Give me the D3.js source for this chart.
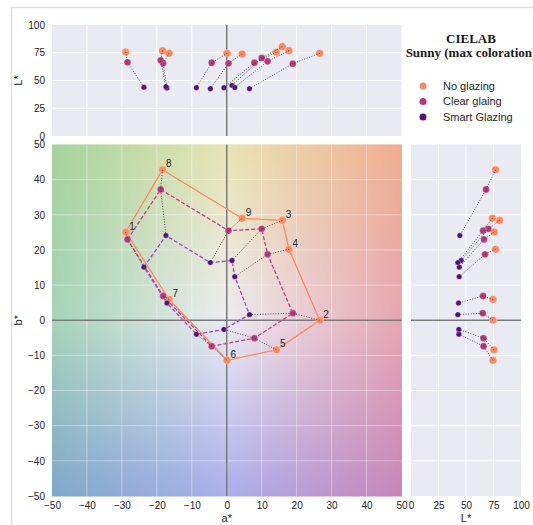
<!DOCTYPE html>
<html>
<head>
<meta charset="utf-8">
<script src="https://cdn.jsdelivr.net/npm/d3@7"></script>
<style>
  html, body { margin: 0; padding: 0; background: #ffffff; }
  svg { display: block; font-family: "Liberation Sans", Arial, sans-serif; }
</style>
</head>
<body>
<svg id="chart" width="533" height="525"></svg>
<script>
// ---------------- DATA ----------------
const samples = ["1", "2", "3", "4", "5", "6", "7", "8", "9"];
const aNo    = [-28.9, 26.6, 15.9, 17.8, 14.2,  0.1, -16.5, -18.4,  4.4];
const bNo    = [ 25.1,  0.0, 28.4, 20.2, -8.4, -11.4,  5.9,  42.8, 29.0];
const LNo    = [ 75.7, 74.5, 80.5, 76.9, 75.4, 74.5, 74.5,  76.9, 73.9];
const aClear = [-28.4, 18.9, 10.0, 11.7,  7.9, -4.3, -18.2, -18.9,  0.5];
const bClear = [ 23.0,  2.0, 26.0, 18.75, -5.1, -7.4,  6.9,  37.2, 25.5];
const LClear = [ 66.4, 65.2, 70.3, 67.3, 66.0, 66.0, 65.5,  68.2, 65.5];
const aSmart = [-23.7,  6.5,  1.5,  2.3, -0.8, -8.7, -17.1, -17.4, -4.7];
const bSmart = [ 15.1,  1.6, 17.0, 12.4, -2.6, -4.0,  4.9,  24.1, 16.4];
const LSmart = [ 43.9, 42.6, 45.6, 43.8, 43.5, 43.5, 43.2,  44.4, 42.6];
const polygonOrder = ["1", "8", "9", "3", "4", "2", "5", "6", "7"];
const seriesNames = ["No glazing", "Clear glaing", "Smart Glazing"];
const abTicks = [-50, -40, -30, -20, -10, 0, 10, 20, 30, 40, 50];
const LTicks = [0, 25, 50, 75, 100];

// ---------------- STYLE ----------------
const markerColors = ["#fc8961", "#b73779", "#51127c"];
const lineColors = ["#fc8961", "#c93d80", "#a24ccf"];
const radii = [3.8, 3.4, 2.7];
const panelBg = "#eaeaf2";
const textColor = "#262626";
const sans = "'Liberation Sans', Arial, sans-serif";
const serif = "'Liberation Serif', 'Times New Roman', serif";

const series = [
  {a: aNo, b: bNo, L: LNo},
  {a: aClear, b: bClear, L: LClear},
  {a: aSmart, b: bSmart, L: LSmart}
];
series.forEach((s, k) => {
  s.pts = samples.map((id, i) => ({id, a: s.a[i], b: s.b[i], L: s.L[i]}));
  s.color = markerColors[k]; s.line = lineColors[k]; s.r = radii[k]; s.name = seriesNames[k];
});

const svg = d3.select("#chart");

// figure frame
svg.append("rect").attr("x", 11.5).attr("y", 7.5).attr("width", 560).attr("height", 560)
  .attr("fill", "none").attr("stroke", "#e4dde1").attr("stroke-width", 1.5);

// ---------------- SCALES ----------------
const xMain = d3.scaleLinear().domain([-50, 50]).range([52, 401.5]);
const yMain = d3.scaleLinear().domain([-50, 50]).range([496, 144.5]);
const yTop = d3.scaleLinear().domain([0, 100]).range([136, 25]);
const xRight = d3.scaleLinear().domain([0, 100]).range([411, 521]);

// ---------------- PANEL BACKGROUNDS ----------------
function panel(x0, x1, y0, y1) {
  svg.append("rect").attr("x", x0).attr("y", y0).attr("width", x1 - x0).attr("height", y1 - y0)
    .attr("fill", panelBg);
}
panel(xMain.range()[0], xMain.range()[1], yTop.range()[1], yTop.range()[0]);
panel(xMain.range()[0], xMain.range()[1], yMain.range()[1], yMain.range()[0]);
panel(xRight.range()[0], xRight.range()[1], yMain.range()[1], yMain.range()[0]);

// main panel colour gradient (a*b* plane impression)
(function () {
  const w = Math.round(xMain.range()[1] - xMain.range()[0]);
  const h = Math.round(yMain.range()[0] - yMain.range()[1]);
  const cv = document.createElement("canvas");
  cv.width = w; cv.height = h;
  const ctx = cv.getContext("2d");
  const img = ctx.createImageData(w, h);
  // 3x3 anchor colours: rows b = +50, 0, -50 ; cols a = -50, 0, +50
  const grid = [
    ["#a4d39a", "#e8e4b2", "#f1ad8e"],
    ["#a6d3b8", "#ecebf1", "#e6a6b2"],
    ["#7ea8c9", "#abaeec", "#c785b9"]
  ].map(r => r.map(c => d3.rgb(c)));
  function lerp(p, q, t) { return p + (q - p) * t; }
  for (let j = 0; j < h; j++) {
    const b = yMain.invert(yMain.range()[1] + j + 0.5);
    const gy = (50 - b) / 50; // 0..2
    const r0 = Math.min(1, Math.floor(gy)), ty = gy - r0;
    for (let i = 0; i < w; i++) {
      const a = xMain.invert(xMain.range()[0] + i + 0.5);
      const gx = (a + 50) / 50;
      const c0 = Math.min(1, Math.floor(gx)), tx = gx - c0;
      const A = grid[r0][c0], B = grid[r0][c0 + 1], C = grid[r0 + 1][c0], D = grid[r0 + 1][c0 + 1];
      const k = (j * w + i) * 4;
      img.data[k]     = lerp(lerp(A.r, B.r, tx), lerp(C.r, D.r, tx), ty);
      img.data[k + 1] = lerp(lerp(A.g, B.g, tx), lerp(C.g, D.g, tx), ty);
      img.data[k + 2] = lerp(lerp(A.b, B.b, tx), lerp(C.b, D.b, tx), ty);
      img.data[k + 3] = 255;
    }
  }
  ctx.putImageData(img, 0, 0);
  svg.append("image").attr("x", xMain.range()[0]).attr("y", yMain.range()[1])
    .attr("width", w).attr("height", h).attr("preserveAspectRatio", "none")
    .attr("href", cv.toDataURL());
})();

// ---------------- GRIDLINES ----------------
function vgrid(scale, ticks, y0, y1, op) {
  svg.append("g").selectAll("line").data(ticks).join("line")
    .attr("x1", d => scale(d)).attr("x2", d => scale(d)).attr("y1", y0).attr("y2", y1)
    .attr("stroke", "#ffffff").attr("stroke-opacity", op).attr("stroke-width", 1);
}
function hgrid(scale, ticks, x0, x1, op) {
  svg.append("g").selectAll("line").data(ticks).join("line")
    .attr("y1", d => scale(d)).attr("y2", d => scale(d)).attr("x1", x0).attr("x2", x1)
    .attr("stroke", "#ffffff").attr("stroke-opacity", op).attr("stroke-width", 1);
}
const inner = abTicks.slice(1, -1);
vgrid(xMain, inner, yTop.range()[1], yTop.range()[0], 1);
hgrid(yTop, LTicks.slice(1, -1), xMain.range()[0], xMain.range()[1], 1);
vgrid(xMain, inner, yMain.range()[1], yMain.range()[0], 0.4);
hgrid(yMain, inner, xMain.range()[0], xMain.range()[1], 0.4);
vgrid(xRight, LTicks.slice(1, -1), yMain.range()[1], yMain.range()[0], 1);
hgrid(yMain, inner, xRight.range()[0], xRight.range()[1], 1);

// zero lines
const zeroStyle = s => s.attr("stroke", "#7b7b7b").attr("stroke-width", 1.5);
zeroStyle(svg.append("line").attr("x1", xMain(0)).attr("x2", xMain(0)).attr("y1", yTop.range()[1]).attr("y2", yTop.range()[0]));
zeroStyle(svg.append("line").attr("x1", xMain(0)).attr("x2", xMain(0)).attr("y1", yMain.range()[1]).attr("y2", yMain.range()[0]));
zeroStyle(svg.append("line").attr("y1", yMain(0)).attr("y2", yMain(0)).attr("x1", xMain.range()[0]).attr("x2", xMain.range()[1]));
zeroStyle(svg.append("line").attr("y1", yMain(0)).attr("y2", yMain(0)).attr("x1", xRight.range()[0]).attr("x2", xRight.range()[1]));

// ---------------- AXES ----------------
function styleAxis(g) {
  g.select(".domain").remove();
  g.selectAll("text").attr("fill", textColor)
    .style("font-size", "10px").style("font-family", sans);
}
svg.append("g").attr("transform", `translate(0,${yMain.range()[0]})`)
  .call(d3.axisBottom(xMain).tickValues(abTicks).tickSize(0).tickPadding(6)).call(styleAxis);
svg.append("g").attr("transform", `translate(${xMain.range()[0]},0)`)
  .call(d3.axisLeft(yMain).tickValues(abTicks).tickSize(0).tickPadding(7)).call(styleAxis);
svg.append("g").attr("transform", `translate(${xMain.range()[0]},0)`)
  .call(d3.axisLeft(yTop).tickValues(LTicks).tickSize(0).tickPadding(7)).call(styleAxis);
svg.append("g").attr("transform", `translate(0,${yMain.range()[0]})`)
  .call(d3.axisBottom(xRight).tickValues(LTicks).tickSize(0).tickPadding(6)).call(styleAxis);

function label(sel) { return sel.attr("fill", textColor).style("font-family", sans).style("font-size", "11px"); }
label(svg.append("text").attr("x", xMain(0)).attr("y", 522).attr("text-anchor", "middle")).text("a*");
label(svg.append("text").attr("x", xRight(50)).attr("y", 522).attr("text-anchor", "middle")).text("L*");
label(svg.append("text").attr("transform", `translate(22,${yMain(0)}) rotate(-90)`).attr("text-anchor", "middle")).text("b*");
label(svg.append("text").attr("transform", `translate(22,${yTop(50)}) rotate(-90)`).attr("text-anchor", "middle")).text("L*");

// ---------------- POLYGONS (main) ----------------
const orderIdx = polygonOrder.map(id => samples.indexOf(id));
const dashes = [null, "4,2", "4,2"];
series.forEach((s, k) => {
  const line = d3.line().x(d => xMain(d.a)).y(d => yMain(d.b)).curve(d3.curveLinearClosed);
  svg.append("path").datum(orderIdx.map(i => s.pts[i])).attr("d", line)
    .attr("fill", "none").attr("stroke", s.line).attr("stroke-width", 1.3)
    .attr("stroke-dasharray", dashes[k]);
});

// ---------------- MARKERS ----------------
const views = [
  {x: d => xMain(d.a), y: d => yMain(d.b)},
  {x: d => xMain(d.a), y: d => yTop(d.L)},
  {x: d => xRight(d.L), y: d => yMain(d.b)}
];
views.forEach(v => {
  series.forEach(s => {
    svg.append("g").selectAll("circle").data(s.pts).join("circle")
      .attr("cx", v.x).attr("cy", v.y).attr("r", s.r)
      .attr("fill", s.color).attr("stroke", "#ffffff").attr("stroke-opacity", 0.5).attr("stroke-width", 0.5);
  });
  // dotted connectors no -> clear -> smart
  const conn = d3.line().x(v.x).y(v.y);
  svg.append("g").selectAll("path").data(samples.map((id, i) => series.map(s => s.pts[i]))).join("path")
    .attr("d", conn).attr("fill", "none").attr("stroke", "#3a3a3a").attr("stroke-width", 1)
    .attr("stroke-dasharray", "1,1.6").attr("stroke-opacity", 0.85);
});

// sample number labels
svg.append("g").selectAll("text").data(series[0].pts).join("text")
  .attr("x", d => xMain(d.a) + 3.5).attr("y", d => yMain(d.b) - 2.5)
  .attr("fill", textColor).style("font-family", sans).style("font-size", "10px").text(d => d.id);

// ---------------- LEGEND ----------------
svg.append("text").attr("x", 471).attr("y", 43).attr("text-anchor", "middle").attr("fill", "#1a1a1a")
  .style("font-family", serif).style("font-weight", "bold").style("font-size", "13px").text("CIELAB");
svg.append("text").attr("x", 471).attr("y", 56.5).attr("text-anchor", "middle").attr("fill", "#1a1a1a")
  .style("font-family", serif).style("font-weight", "bold").style("font-size", "13px").text("Sunny (max coloration)");
const leg = svg.append("g").selectAll("g").data(series).join("g")
  .attr("transform", (d, i) => `translate(423,${86 + i * 15.5})`);
leg.append("circle").attr("r", 3.5).attr("fill", d => d.color);
leg.append("text").attr("x", 20).attr("dy", "0.35em").attr("fill", textColor)
  .style("font-family", sans).style("font-size", "11px").text(d => d.name);
</script>
</body>
</html>
